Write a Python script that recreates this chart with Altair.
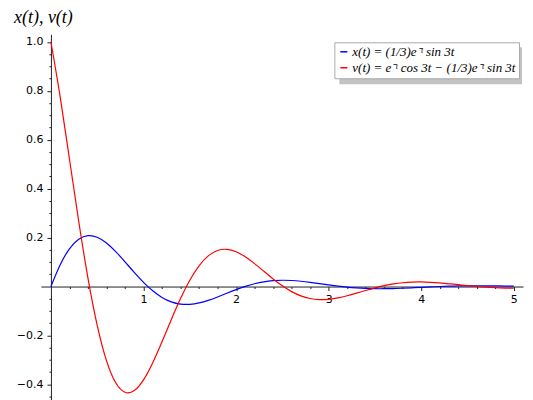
import altair as alt
import pandas as pd

# sample times
t_vals = [0.0, 0.1, 0.2, 0.3, 0.4, 0.5, 0.6, 0.7, 0.8, 0.9,
          1.0, 1.1, 1.2, 1.3, 1.4, 1.5, 1.6, 1.7, 1.8, 1.9,
          2.0, 2.1, 2.2, 2.3, 2.4, 2.5, 2.6, 2.7, 2.8, 2.9,
          3.0, 3.1, 3.2, 3.3, 3.4, 3.5, 3.6, 3.7, 3.8, 3.9,
          4.0, 4.1, 4.2, 4.3, 4.4, 4.5, 4.6, 4.7, 4.8, 4.9, 5.0]

x_vals = [0.0, 0.0891, 0.1541, 0.1934, 0.2083, 0.2017, 0.1782, 0.1429, 0.1012, 0.0579,
          0.0173, -0.0175, -0.0444, -0.0625, -0.0716, -0.0727, -0.0670, -0.0564, -0.0426, -0.0275,
          -0.0126, 0.0007, 0.0115, 0.0193, 0.0240, 0.0257, 0.0247, 0.0217, 0.0173, 0.0122,
          0.0068, 0.0019, -0.0024, -0.0056, -0.0078, -0.0089, -0.0089, -0.0082, -0.0069, -0.0051,
          -0.0033, -0.0015, 0.0002, 0.0015, 0.0024, 0.0030, 0.0032, 0.0030, 0.0026, 0.0021, 0.0015]

v_vals = [1.0, 0.7753, 0.5216, 0.2671, 0.0346, -0.1588, -0.3028, -0.3936, -0.4325, -0.4255,
          -0.3815, -0.3112, -0.2257, -0.1354, -0.0493, 0.0257, 0.0847, 0.1254, 0.1475, 0.1523,
          0.1425, 0.1218, 0.0938, 0.0625, 0.0312, 0.0028, -0.0207, -0.0381, -0.0489, -0.0534,
          -0.0522, -0.0466, -0.0378, -0.0272, -0.0161, -0.0055, 0.0036, 0.0108, 0.0156, 0.0182,
          0.0187, 0.0174, 0.0148, 0.0113, 0.0075, 0.0036, 0.0002, -0.0027, -0.0048, -0.0061, -0.0066]

series_names = ["x(t) = (1/3)e\u207b\u1d57 sin 3t",
                "v(t) = e\u207b\u1d57 cos 3t \u2212 (1/3)e\u207b\u1d57 sin 3t"]
series_colors = ["#0000ff", "#ff0000"]

x_major = [1, 2, 3, 4, 5]
x_minor = [0.2, 0.4, 0.6, 0.8, 1.2, 1.4, 1.6, 1.8, 2.2, 2.4, 2.6, 2.8,
           3.2, 3.4, 3.6, 3.8, 4.2, 4.4, 4.6, 4.8]
y_major = [-0.4, -0.2, 0.2, 0.4, 0.6, 0.8, 1.0]
y_minor = [-0.45, -0.35, -0.3, -0.25, -0.15, -0.1, -0.05, 0.05, 0.1, 0.15,
           0.25, 0.3, 0.35, 0.45, 0.5, 0.55, 0.65, 0.7, 0.75, 0.85, 0.9, 0.95]

axis_title = "x(t), v(t)"

W, H = 483, 366
xdom = [-0.108, 5.1]
ydom = [-0.4624, 1.0314]
yaxis_offset = -(0 - xdom[0]) / (xdom[1] - xdom[0]) * W
xaxis_offset = -(0 - ydom[0]) / (ydom[1] - ydom[0]) * H

rows = []
for name, vals in zip(series_names, [x_vals, v_vals]):
    for t, v in zip(t_vals, vals):
        rows.append({"t": t, "val": v, "series": name})
df = pd.DataFrame(rows)

xscale = alt.Scale(domain=xdom, nice=False, zero=False)
yscale = alt.Scale(domain=ydom, nice=False, zero=False)

common_axis = dict(grid=False, domainColor="#222", tickColor="#222", domainWidth=1,
                   tickWidth=1, labelFont="DejaVu Sans", labelFontSize=11,
                   labelColor="#000", title=None)

x_axis_major = alt.Axis(values=x_major, format="d", offset=xaxis_offset, tickSize=4,
                        labelPadding=3, labelFlush=False, orient="bottom", **common_axis)
y_axis_major = alt.Axis(values=y_major, format=".1f", offset=yaxis_offset, tickSize=4,
                        labelPadding=4, orient="left", **common_axis)
x_axis_minor = alt.Axis(values=x_minor, labels=False, domain=False, offset=xaxis_offset,
                        tickSize=2, orient="bottom", grid=False, tickColor="#222", title=None)
y_axis_minor = alt.Axis(values=y_minor, labels=False, domain=False, offset=yaxis_offset,
                        tickSize=2, orient="left", grid=False, tickColor="#222", title=None)

lines = alt.Chart(df).mark_line(strokeWidth=1.2, interpolate="natural").encode(
    x=alt.X("t:Q", scale=xscale, axis=x_axis_major),
    y=alt.Y("val:Q", scale=yscale, axis=y_axis_major),
    color=alt.Color("series:N",
                    scale=alt.Scale(domain=series_names, range=series_colors),
                    sort=series_names,
                    legend=alt.Legend(title=None, orient="none", legendX=294, legendY=8,
                                      symbolType="stroke", symbolSize=50, symbolStrokeWidth=1.5,
                                      labelFont="Liberation Serif", labelFontSize=13,
                                      labelFontStyle="italic",
                                      labelColor="#000", labelOffset=2,
                                      fillColor="white", strokeColor="#aaa",
                                      padding=3, rowPadding=2, cornerRadius=0,
                                      labelLimit=400)),
)

minor = alt.Chart(df).mark_point(opacity=0).encode(
    x=alt.X("t:Q", scale=xscale, axis=x_axis_minor),
    y=alt.Y("val:Q", scale=yscale, axis=y_axis_minor),
)

shadow = alt.Chart(pd.DataFrame({"a": [0]})).mark_rect(color="#999", opacity=0.6).encode(
    x=alt.value(299), x2=alt.value(482), y=alt.value(13), y2=alt.value(50),
)

title = alt.Chart(pd.DataFrame({"label": [axis_title]})).mark_text(
    align="left", baseline="alphabetic", font="Liberation Serif", fontStyle="italic",
    fontSize=18, color="#000"
).encode(x=alt.value(-27), y=alt.value(-11), text="label:N")

chart = alt.layer(shadow, minor, lines, title).resolve_axis(
    x="independent", y="independent"
).properties(
    width=W, height=H, autosize="none",
    padding={"left": 33, "top": 26, "right": 2, "bottom": 0},
).configure_view(stroke=None)

chart.save("out.html", embed_options={"renderer": "svg", "actions": False})
